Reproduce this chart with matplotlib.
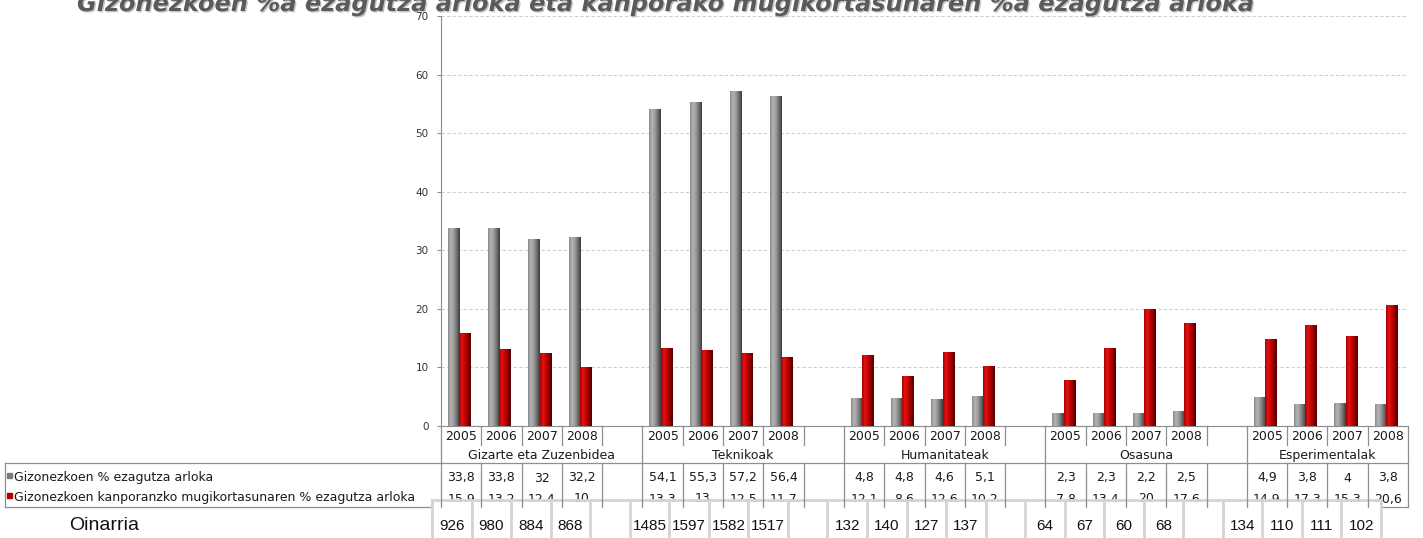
import numpy as np
import matplotlib
matplotlib.use("Agg")
import matplotlib.pyplot as plt
from matplotlib.colors import LinearSegmentedColormap
import matplotlib.patheffects as pe

# --- data ---
categories = ["Gizarte eta Zuzenbidea", "Teknikoak", "Humanitateak", "Osasuna", "Esperimentalak"]
years = ["2005", "2006", "2007", "2008"]
series_names = ["Gizonezkoen % ezagutza arloka",
                "Gizonezkoen kanporanzko mugikortasunaren % ezagutza arloka"]
ezagutza = [33.8, 33.8, 32, 32.2,
            54.1, 55.3, 57.2, 56.4,
            4.8, 4.8, 4.6, 5.1,
            2.3, 2.3, 2.2, 2.5,
            4.9, 3.8, 4, 3.8]
mugikortasuna = [15.9, 13.2, 12.4, 10,
                 13.3, 13, 12.5, 11.7,
                 12.1, 8.6, 12.6, 10.2,
                 7.8, 13.4, 20, 17.6,
                 14.9, 17.3, 15.3, 20.6]
oinarria = [926, 980, 884, 868,
            1485, 1597, 1582, 1517,
            132, 140, 127, 137,
            64, 67, 60, 68,
            134, 110, 111, 102]
title = "Gizonezkoen %a ezagutza arloka eta kanporako mugikortasunaren %a ezagutza arloka"

W, H = 1423, 538
fig = plt.figure(figsize=(W / 100, H / 100), dpi=100)

# overlay axes in pixel coords (y down) for the data table
ov = fig.add_axes([0, 0, 1, 1])
ov.set_xlim(0, W)
ov.set_ylim(H, 0)
ov.axis("off")

# chart area
L, R, T, B = 441, 1408, 16, 426
nslots = 24
ax = fig.add_axes([L / W, (H - B) / H, (R - L) / W, (B - T) / H])
ax.set_zorder(2)
ax.patch.set_alpha(0)

slots = [g * 5 + i for g in range(len(categories)) for i in range(len(years))]
slots = np.array(slots)

gray_cmap = LinearSegmentedColormap.from_list(
    "g", ["#8a8a8a", "#b4b4b4", "#9a9a9a", "#6e6e6e", "#3c3c3c"])
red_cmap = LinearSegmentedColormap.from_list(
    "r", ["#a80000", "#e01515", "#c80000", "#900000", "#4a0000"])
grad = np.linspace(0, 1, 64).reshape(1, -1)

bw = 0.28
b1 = ax.bar(slots + 0.45 - bw / 2, ezagutza, width=bw, color="#888888", zorder=3)
b2 = ax.bar(slots + 0.45 + bw / 2, mugikortasuna, width=bw, color="#c00000", zorder=3)
for bars, cm in ((b1, gray_cmap), (b2, red_cmap)):
    for p in bars:
        x0, w, h = p.get_x(), p.get_width(), p.get_height()
        im = ax.imshow(grad, extent=[x0, x0 + w, 0, h], aspect="auto", cmap=cm,
                       zorder=3.5, interpolation="bilinear")
        im.set_clip_path(p)

ax.set_xlim(0, nslots)
ax.set_ylim(0, 70)
ax.set_yticks(range(0, 71, 10))
ax.set_xticks([])
ax.yaxis.grid(True, linestyle=(0, (3, 2)), color="#cfcfcf", linewidth=0.8)
ax.set_axisbelow(True)
for s in ["top", "right"]:
    ax.spines[s].set_visible(False)
ax.spines["left"].set_color("#8c8c8c")
ax.spines["bottom"].set_color("#8c8c8c")
ax.tick_params(axis="y", labelsize=7.5, colors="#333333", length=3, color="#8c8c8c", pad=6)

# --- data table ---
def px(s):
    return L + s * (R - L) / nslots

lc = "#8f8f8f"
lw = 0.9
ov.plot([5, R], [463, 463], color=lc, lw=lw)
ov.plot([5, R], [507, 507], color=lc, lw=lw, zorder=1)
ov.plot([5, 5], [463, 507], color=lc, lw=lw)
for s in range(nslots + 1):
    if s % 5 == 0 or s == nslots:
        ov.plot([px(s), px(s)], [426, 507], color=lc, lw=lw)
    else:
        ov.plot([px(s), px(s)], [426, 445], color=lc, lw=lw)
        ov.plot([px(s), px(s)], [463, 507], color=lc, lw=lw)

fmt = lambda v: ("%g" % v).replace(".", ",")
tkw = dict(fontsize=9, color="#1a1a1a", ha="center", family="DejaVu Sans")
for k, s in enumerate(slots):
    cx = (px(s) + px(s + 1)) / 2
    ov.text(cx, 440.5, years[k % 4], va="baseline", **tkw)
    ov.text(cx, 481.5, fmt(ezagutza[k]), va="baseline", **tkw)
    ov.text(cx, 502.5, fmt(mugikortasuna[k]), va="baseline", zorder=1, **tkw)
for g, c in enumerate(categories):
    ov.text((px(g * 5) + px(min(g * 5 + 5, nslots))) / 2, 459, c, va="baseline", **tkw)

# legend keys + names
ov.add_patch(plt.Rectangle((7, 473), 5, 5, color="#7a7a7a"))
ov.add_patch(plt.Rectangle((7, 493), 5, 5, color="#b00000"))
ov.text(14, 480.5, series_names[0], fontsize=9, color="#1a1a1a", va="baseline")
ov.text(14, 500.5, series_names[1], fontsize=9, color="#1a1a1a", va="baseline")

# --- Oinarria strip laid over the table ---
OL, OR, OT = 432, 1381, 500
ov.add_patch(plt.Rectangle((OL, OT + 1.5), OR - OL, H - OT, color="white", zorder=1.5))
for s in range(nslots + 1):
    x = OL + s * (OR - OL) / nslots
    ov.plot([x, x], [OT, H], color="#d4d4d4", lw=2, zorder=1.6)
ov.plot([OL, OR], [OT, OT], color="#d4d4d4", lw=2, zorder=1.6)
for k, s in enumerate(slots):
    cx = OL + (s + 0.5) * (OR - OL) / nslots
    ov.text(cx, 526, str(oinarria[k]), fontsize=11, family="Liberation Sans",
            ha="center", va="center", color="#111111", zorder=2)
ov.text(104, 526, "Oinarria", fontsize=14, family="Liberation Sans",
        ha="center", va="center", color="#111111")

# title (cut off at the top like the source)
fig.text(77 / W, 1 - 11 / H, title, fontsize=17.3, fontweight="bold", style="italic",
         color="#5a5a5a", ha="left", va="baseline",
         path_effects=[pe.withSimplePatchShadow(offset=(1, -1), alpha=0.25)])

fig.savefig("out.png", dpi=100)
